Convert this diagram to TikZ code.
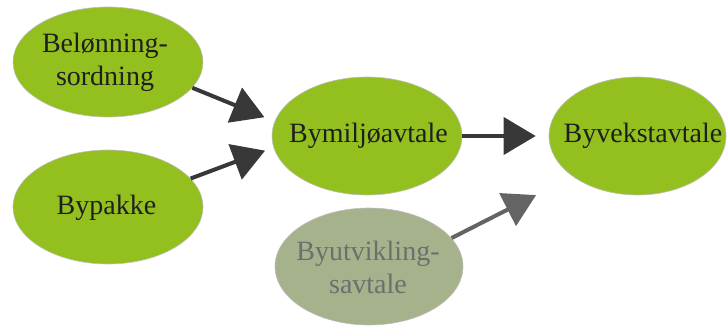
\documentclass[tikz,border=0pt]{standalone}
\usepackage{fontspec}
\setmainfont{Liberation Serif}
\newfontfamily\timesfam{Liberation Serif}
\usetikzlibrary{arrows.meta,shapes.geometric}
\definecolor{leaf}{RGB}{147,192,31}
\definecolor{sage}{RGB}{166,178,140}
\definecolor{darkarr}{RGB}{56,56,56}
\definecolor{grayarr}{RGB}{100,100,100}
\definecolor{graytext}{RGB}{110,110,110}
\begin{document}
\begin{tikzpicture}[x=1pt,y=-1pt,
  ell/.style={ellipse,fill=leaf,draw=black!25,line width=0.6pt,inner sep=0pt},
  txt/.style={font=\timesfam\fontsize{28}{33}\selectfont,align=center,text=black!88},
  arr/.style={line width=4pt,draw=darkarr,-{Triangle[length=32pt,width=37pt]}},
  garr/.style={line width=4pt,draw=grayarr,-{Triangle[length=32pt,width=36pt]}}]
\useasboundingbox (0,0) rectangle (728,326);
\node[ell,minimum width=190pt,minimum height=110pt] (bel) at (108,62) {};
\node[txt] (belt) at (105,62) {Belønning-\\sordning};
\node[ell,minimum width=190pt,minimum height=114pt] (byp) at (108,207) {};
\node[txt] (bypt) at (106.5,208) {Bypakke};
\node[ell,minimum width=190pt,minimum height=118pt] (bym) at (367,136) {};
\node[txt] (bymt) at (368.5,136) {Bymiljøavtale};
\node[ell,minimum width=177pt,minimum height=118pt] (byv) at (637.5,136) {};
\node[txt] (byvt) at (643,136) {Byvekstavtale};
\node[ell,fill=sage,minimum width=188pt,minimum height=117pt] (byu) at (369,266.5) {};
\node[txt,text=graytext] (byut) at (368,267) {Byutvikling-\\savtale};
\draw[arr,shorten >=11pt] (bel.-17) -- (bym.171);
\draw[arr,shorten >=9pt] (byp.19) -- (bym.-173.5);
\draw[arr,shorten >=13pt] (bym.east) -- (byv.west);
\draw[garr,shorten >=41pt] (byu.19) -- (byv.-148.2);
\end{tikzpicture}
\end{document}
